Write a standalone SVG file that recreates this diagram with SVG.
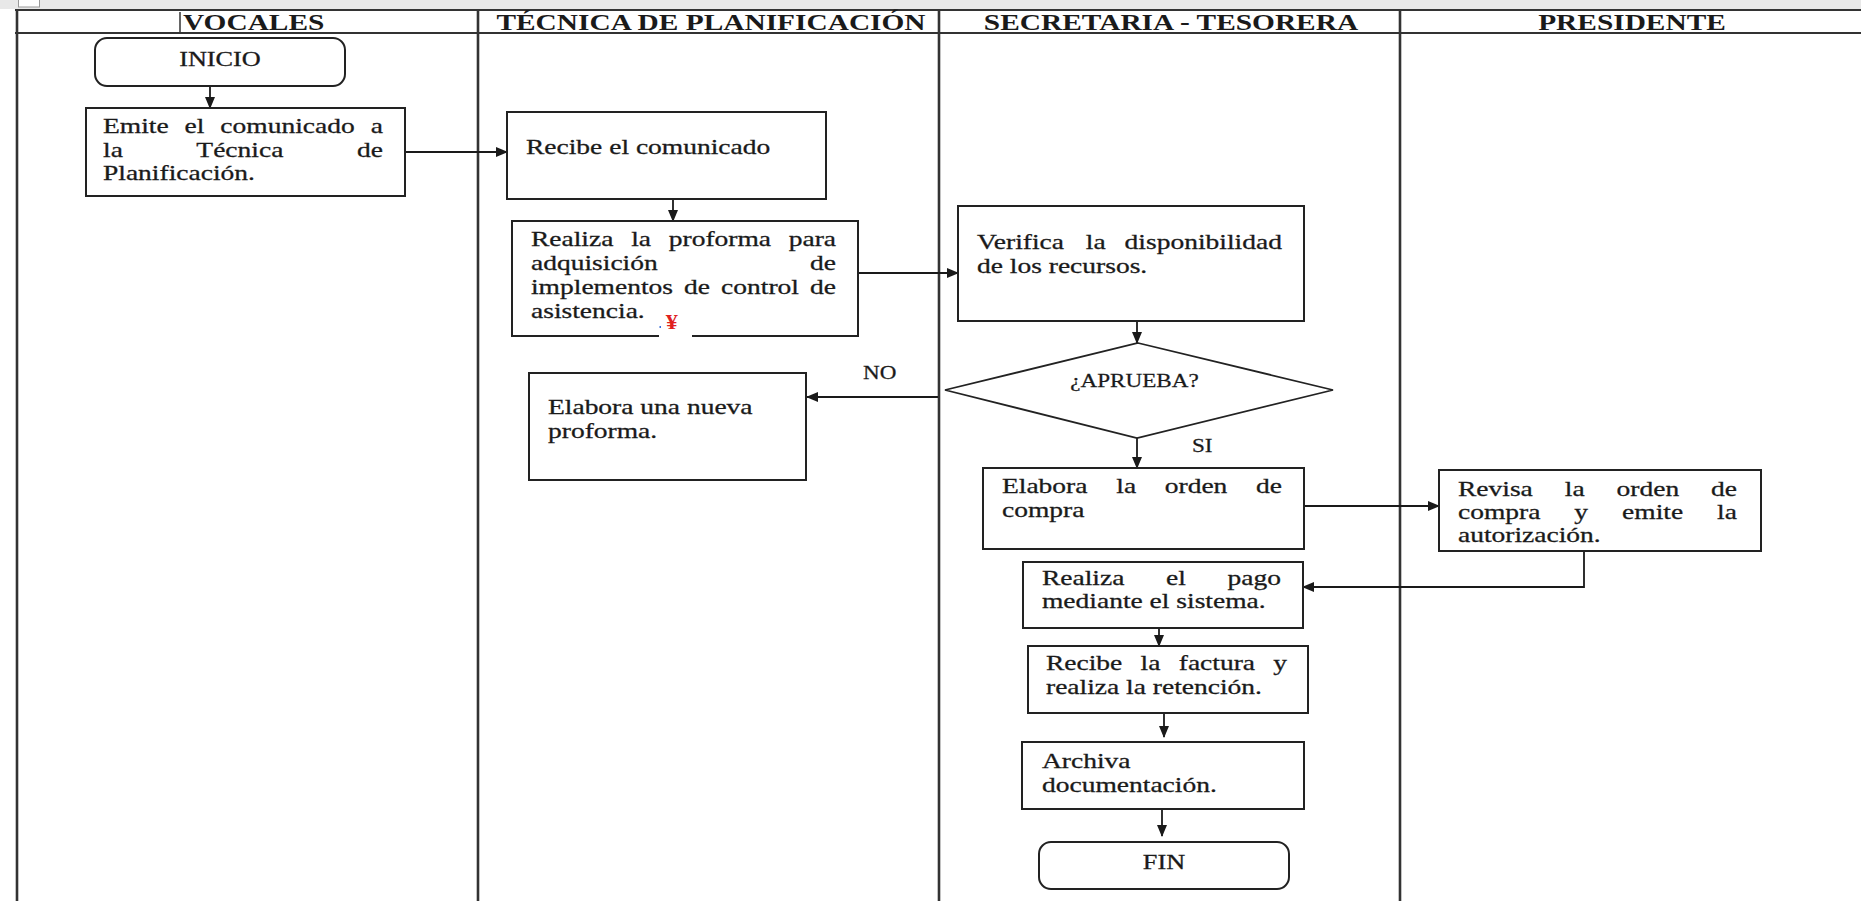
<svg xmlns="http://www.w3.org/2000/svg" width="1861" height="901" viewBox="0 0 1861 901">
<style>
.t{font-family:"Liberation Serif","Times New Roman",serif;font-size:22px;fill:#1a1a1a;stroke:#1a1a1a;stroke-width:0.3}
.h{font-family:"Liberation Serif","Times New Roman",serif;font-size:23.5px;font-weight:bold;fill:#1a1a1a}
.s{font-family:"Liberation Serif","Times New Roman",serif;font-size:18.5px;fill:#1a1a1a;stroke:#1a1a1a;stroke-width:0.25}
.box{fill:#fff;stroke:#222;stroke-width:2}
.lane{stroke:#333;stroke-width:2.6;fill:none}
.hl{stroke:#333;stroke-width:2;fill:none}
.c{stroke:#1a1a1a;stroke-width:1.8;fill:none;marker-end:url(#ah)}
</style>
<defs>
<marker id="ah" markerWidth="12" markerHeight="10" refX="11" refY="5" orient="auto" markerUnits="userSpaceOnUse">
<path d="M0,0 L12,5 L0,10 z" fill="#1a1a1a"/>
</marker>
</defs>
<rect x="0" y="0" width="1861" height="901" fill="#fff"/>
<rect x="0" y="0" width="1861" height="9" fill="#e8e8e8"/>
<rect x="18.5" y="-2" width="21" height="9" fill="#fff" stroke="#999" stroke-width="1"/>

<g id="lanes">
<line class="hl" x1="15" y1="10" x2="1861" y2="10"/>
<line class="hl" x1="15" y1="33" x2="1861" y2="33"/>
<line class="lane" x1="17" y1="10" x2="17" y2="901"/>
<line class="lane" x1="478" y1="10" x2="478" y2="901"/>
<line class="lane" x1="939" y1="10" x2="939" y2="901"/>
<line class="lane" x1="1400" y1="10" x2="1400" y2="901"/>
<line x1="180" y1="12" x2="180" y2="34" stroke="#333" stroke-width="1.5"/>
<g transform="scale(1.25 1)">
<text class="h" x="146.4" y="30">VOCALES</text>
<text class="h" x="568.8" y="30" text-anchor="middle">TÉCNICA DE PLANIFICACIÓN</text>
<text class="h" x="936.8" y="30" text-anchor="middle">SECRETARIA - TESORERA</text>
<text class="h" x="1305.6" y="30" text-anchor="middle">PRESIDENTE</text>
</g>
</g>

<g id="connectors">
<line class="c" x1="210" y1="86" x2="210" y2="108"/>
<line class="c" x1="405" y1="152" x2="507" y2="152"/>
<line class="c" x1="673" y1="199" x2="673" y2="221"/>
<line class="c" x1="858" y1="273" x2="958" y2="273"/>
<line class="c" x1="1137" y1="321" x2="1137" y2="343"/>
<line class="c" x1="938" y1="397" x2="807" y2="397"/>
<line class="c" x1="1137" y1="438" x2="1137" y2="468"/>
<line class="c" x1="1304" y1="506" x2="1439" y2="506"/>
<path class="c" d="M1584,551 V587 H1303"/>
<line class="c" x1="1159" y1="628" x2="1159" y2="646"/>
<line class="c" x1="1164" y1="713" x2="1164" y2="737"/>
<line class="c" x1="1162" y1="809" x2="1162" y2="836"/>
<g transform="scale(1.25 1)">
<text class="s" x="690.4" y="379">NO</text>
<text class="s" x="953.6" y="452">SI</text>
</g>
</g>

<g id="inicio">
<rect class="box" x="95" y="38" width="250" height="48" rx="12"/>
<g transform="scale(1.25 1)"><text class="t" x="176" y="66" text-anchor="middle" style="font-size:21px">INICIO</text></g>
</g>

<g id="emite">
<rect class="box" x="86" y="108" width="319" height="88"/>
<g transform="scale(1.25 1)">
<text class="t" y="133"><tspan x="82.4">Emite</tspan><tspan x="147.7">el</tspan><tspan x="176.3">comunicado</tspan><tspan x="296.6">a</tspan></text>
<text class="t" y="157"><tspan x="82.4">la</tspan><tspan x="157.1">Técnica</tspan><tspan x="285.6">de</tspan></text>
<text class="t" x="82.4" y="180">Planificación.</text>
</g>
</g>

<g id="recibe">
<rect class="box" x="507" y="112" width="319" height="87"/>
<g transform="scale(1.25 1)"><text class="t" x="420.8" y="154">Recibe el comunicado</text></g>
</g>

<g id="realiza">
<rect class="box" x="512" y="221" width="346" height="115"/>
<g transform="scale(1.25 1)">
<text class="t" y="246"><tspan x="424.8">Realiza</tspan><tspan x="505">la</tspan><tspan x="535">proforma</tspan><tspan x="631">para</tspan></text>
<text class="t" y="270"><tspan x="424.8">adquisición</tspan><tspan x="648">de</tspan></text>
<text class="t" y="294"><tspan x="424.8">implementos</tspan><tspan x="547.3">de</tspan><tspan x="576.9">control</tspan><tspan x="648">de</tspan></text>
<text class="t" x="424.8" y="318">asistencia.</text>
</g>
<rect x="659" y="324" width="33" height="14" fill="#fff"/>
<rect x="659.5" y="326" width="1.5" height="2" fill="#3a6fd8"/>
<g transform="scale(1.15 1)"><text x="579" y="329" style="font-family:'Liberation Serif',serif;font-size:21px;font-weight:bold;fill:#e02020">¥</text></g>
</g>

<g id="verifica">
<rect class="box" x="958" y="206" width="346" height="115"/>
<g transform="scale(1.25 1)">
<text class="t" y="249"><tspan x="781.6">Verifica</tspan><tspan x="868.7">la</tspan><tspan x="899.7">disponibilidad</tspan></text>
<text class="t" x="781.6" y="273">de los recursos.</text>
</g>
</g>

<g id="aprueba">
<polygon points="1138,343 1333,390 1137,438 945,390" fill="#fff" stroke="#222" stroke-width="1.8"/>
<g transform="scale(1.25 1)"><text class="s" x="907.6" y="387" text-anchor="middle">¿APRUEBA?</text></g>
</g>

<g id="nueva">
<rect class="box" x="529" y="373" width="277" height="107"/>
<g transform="scale(1.25 1)">
<text class="t" x="438.4" y="414">Elabora una nueva</text>
<text class="t" x="438.4" y="438">proforma.</text>
</g>
</g>

<g id="orden">
<rect class="box" x="983" y="468" width="321" height="81"/>
<g transform="scale(1.25 1)">
<text class="t" y="493"><tspan x="801.6">Elabora</tspan><tspan x="893">la</tspan><tspan x="931.8">orden</tspan><tspan x="1004.9">de</tspan></text>
<text class="t" x="801.6" y="517">compra</text>
</g>
</g>

<g id="revisa">
<rect class="box" x="1439" y="470" width="322" height="81"/>
<g transform="scale(1.25 1)">
<text class="t" y="496"><tspan x="1166.4">Revisa</tspan><tspan x="1251.8">la</tspan><tspan x="1293.3">orden</tspan><tspan x="1368.9">de</tspan></text>
<text class="t" y="519"><tspan x="1166.4">compra</tspan><tspan x="1259.5">y</tspan><tspan x="1297.7">emite</tspan><tspan x="1373.7">la</tspan></text>
<text class="t" x="1166.4" y="542">autorización.</text>
</g>
</g>

<g id="pago">
<rect class="box" x="1023" y="562" width="280" height="66"/>
<g transform="scale(1.25 1)">
<text class="t" y="585"><tspan x="833.6">Realiza</tspan><tspan x="932.9">el</tspan><tspan x="982.1">pago</tspan></text>
<text class="t" x="833.6" y="608">mediante el sistema.</text>
</g>
</g>

<g id="factura">
<rect class="box" x="1028" y="646" width="280" height="67"/>
<g transform="scale(1.25 1)">
<text class="t" y="670"><tspan x="836.8">Recibe</tspan><tspan x="912.5">la</tspan><tspan x="943">factura</tspan><tspan x="1018.6">y</tspan></text>
<text class="t" x="836.8" y="694">realiza la retención.</text>
</g>
</g>

<g id="archiva">
<rect class="box" x="1022" y="742" width="282" height="67"/>
<g transform="scale(1.25 1)">
<text class="t" x="833.6" y="768">Archiva</text>
<text class="t" x="833.6" y="792">documentación.</text>
</g>
</g>

<g id="fin">
<rect class="box" x="1039" y="842" width="250" height="47" rx="12"/>
<g transform="scale(1.25 1)"><text class="t" x="931.2" y="869" text-anchor="middle" style="font-size:21px">FIN</text></g>
</g>
</svg>
